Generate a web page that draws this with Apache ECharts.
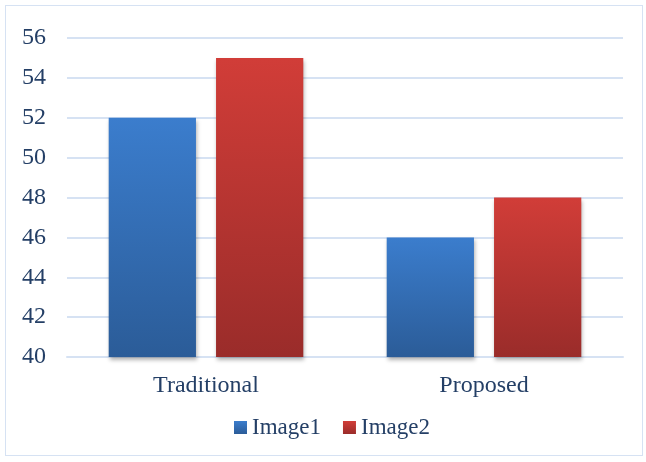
<!DOCTYPE html>
<html>
<head>
<meta charset="utf-8">
<script src="https://cdn.jsdelivr.net/npm/echarts@6/dist/echarts.min.js"></script>
<style>
  html, body { margin: 0; padding: 0; background: #fff; }
  #frame { position: absolute; left: 5px; top: 5px; width: 638px; height: 451px; border: 1px solid #d6e2f3; box-sizing: border-box; }
  #chart { width: 646px; height: 462px; }
</style>
</head>
<body>
<div id="frame"></div>
<div id="chart"></div>
<script>
var categories = ['Traditional', 'Proposed']
var image1 = [52, 46]
var image2 = [55, 48]
var seriesNames = ['Image1', 'Image2']

var textColor = '#243f66'
var font = '"Liberation Serif", "Times New Roman", serif'

function grad(top, bottom) {
  return new echarts.graphic.LinearGradient(0, 0, 0, 1, [
    { offset: 0, color: top },
    { offset: 1, color: bottom }
  ])
}

var chart = echarts.init(document.getElementById('chart'))
chart.setOption({
  animation: false,
  textStyle: { fontFamily: font },
  grid: { left: 67, right: 23, top: 38, bottom: 105 },
  legend: {
    top: 411,
    left: 229,
    itemWidth: 13,
    itemHeight: 13,
    itemGap: 22,
    icon: 'rect',
    textStyle: { color: textColor, fontSize: 23, fontFamily: font },
    data: seriesNames
  },
  xAxis: {
    type: 'category',
    data: categories,
    axisLine: { lineStyle: { color: '#d6e2f3', width: 2 } },
    axisTick: { show: false },
    axisLabel: { color: textColor, fontSize: 24, fontFamily: font, margin: 17 }
  },
  yAxis: {
    type: 'value',
    min: 40,
    max: 56,
    interval: 2,
    axisLine: { show: false },
    axisTick: { show: false },
    splitLine: { lineStyle: { color: '#d6e2f3', width: 2 } },
    axisLabel: { color: textColor, fontSize: 24, fontFamily: font, margin: 21 }
  },
  series: [
    {
      name: seriesNames[0],
      type: 'bar',
      data: image1,
      barGap: '23%',
      barCategoryGap: '30%',
      itemStyle: {
        color: grad('#3b7dcd', '#2b5c98'),
        shadowColor: 'rgba(0,0,0,0.3)',
        shadowBlur: 4,
        shadowOffsetX: 1,
        shadowOffsetY: 3
      }
    },
    {
      name: seriesNames[1],
      type: 'bar',
      data: image2,
      itemStyle: {
        color: grad('#d13d38', '#9a2c2a'),
        shadowColor: 'rgba(0,0,0,0.3)',
        shadowBlur: 4,
        shadowOffsetX: 1,
        shadowOffsetY: 3
      }
    }
  ]
})
</script>
</body>
</html>
